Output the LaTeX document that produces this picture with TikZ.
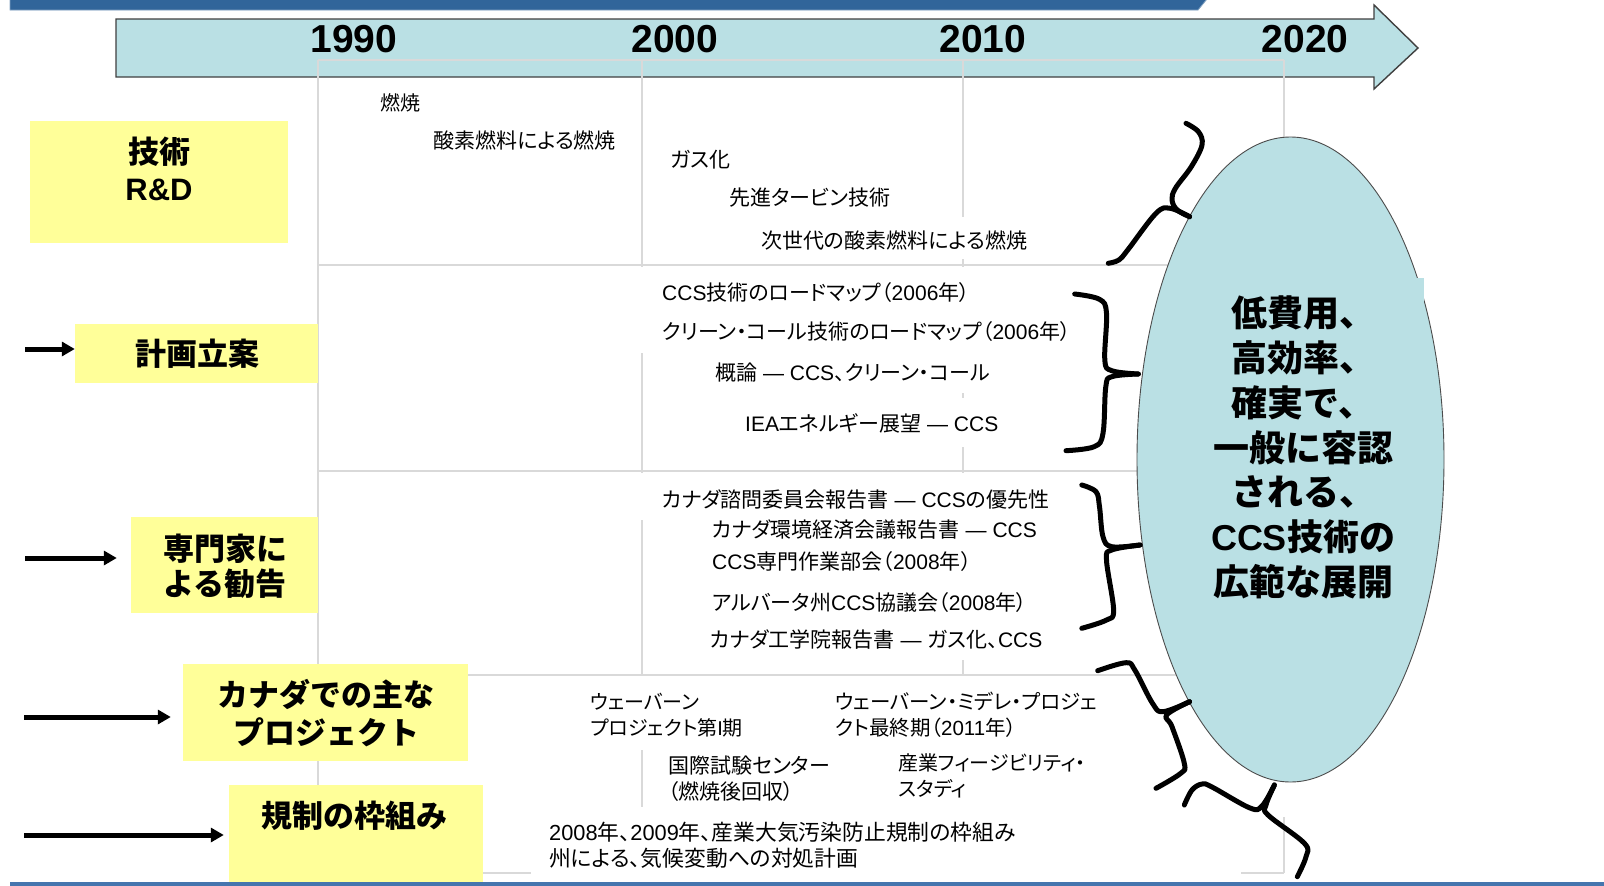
\documentclass[tikz,border=0pt]{standalone}
\usepackage{fontspec}
\setmainfont{Noto Sans CJK JP}[RawFeature=+palt]
\newfontfamily\jpbold{Noto Sans CJK JP}
\newfontfamily\latfont{Liberation Sans}
\newcommand\latn[1]{{\latfont #1}}
\usetikzlibrary{shapes.geometric,arrows.meta}
\definecolor{yboxcol}{HTML}{FFFF99}
\definecolor{ellcol}{HTML}{BAE0E4}
\definecolor{gridcol}{HTML}{D9D9D9}
\definecolor{topbarcol}{HTML}{31659A}
\definecolor{botbarcol}{HTML}{4575AE}
\tikzset{
  ybox/.style={fill=yboxcol,draw=none,inner sep=0pt},
  ytext/.style={font=\jpbold\bfseries\fontsize{31}{37}\selectfont,align=center,inner sep=0pt},
  itemtext/.style={anchor=west,inner sep=0pt,font=\fontsize{21}{26}\selectfont,align=left},
  smalltext/.style={itemtext,font=\fontsize{20}{26}\selectfont},
  gridline/.style={draw=gridcol,line width=1.5pt},
  bracecurve/.style={draw=black,line width=5pt,line cap=round,line join=round},
  leftarrow/.style={draw=black,line width=5pt,-{Triangle[length=13pt,width=14pt]}},
  yeartext/.style={font=\latfont\bfseries\fontsize{39}{39}\selectfont,inner sep=0pt},
}
\begin{document}
\begin{tikzpicture}[x=1pt,y=-1pt]
\useasboundingbox (0,0) rectangle (1604,886);
\fill[white] (0,0) rectangle (1604,886);
% top and bottom bars
\filldraw[fill=topbarcol,draw=topbarcol!60!white,line width=0.8pt] (10,-1) -- (1207,-1) -- (1198,10) -- (10,10) -- cycle;
\fill[botbarcol] (10,882) rectangle (1604,887);
% timeline arrow
\filldraw[fill=ellcol,draw=black!75,line width=1.4pt] (116,19) -- (1374,19) -- (1374,5) -- (1418,48) -- (1374,89) -- (1374,77) -- (116,77) -- cycle;
\node[yeartext] (y1990) at (354,39) {1990};
\node[yeartext] (y2000) at (675,39) {2000};
\node[yeartext] (y2010) at (983,39) {2010};
\node[yeartext] (y2020) at (1305,39) {2020};
% grid
\draw[gridline] (318,60) -- (1284,60);
\draw[gridline] (318,60) -- (318,873);
\draw[gridline] (642,60) -- (642,267) (642,353) -- (642,473) (642,520) -- (642,675) (642,750) -- (642,807);
\draw[gridline] (963,60) -- (963,217) (963,259) -- (963,267) (963,393) -- (963,398) (963,447) -- (963,473) (963,660) -- (963,675);
\draw[gridline] (1284,60) -- (1284,300) (1284,817) -- (1284,873);
\draw[gridline] (318,265) -- (1200,265);
\draw[gridline] (318,471) -- (1200,471);
\draw[gridline] (318,675) -- (1200,675);
\draw[gridline] (318,873) -- (531,873) (1241,873) -- (1284,873);
% goal ellipse
\node[ellipse,draw=black!70,line width=0.9pt,fill=ellcol,minimum width=307pt,minimum height=645pt,inner sep=0pt] (goal) at (1290.5,459.5) {};
\fill[ellcol] (1180,278) rectangle (1424,600);
\node[font=\jpbold\bfseries\fontsize{36}{44.8}\selectfont,align=center,inner sep=0pt] (goaltext) at (1303,447.5)
  {低費用、\\高効率、\\確実で、\\一般に容認\\される、\\\latn{CCS}技術の\\広範な展開};
% braces
\draw[bracecurve] plot[smooth,tension=0.6] coordinates {(1186,123.3) (1198.4,131.7) (1202,145) (1191.3,166.7) (1175.4,188.3) (1172,200) (1177.2,210) (1189.6,216.7)};
\draw[bracecurve] plot[smooth,tension=0.6] coordinates {(1189.6,216.7) (1170.1,208.3) (1156,213.3) (1127.7,250) (1118.9,260) (1108.3,263.3)};
\draw[bracecurve] plot[smooth,tension=0.6] coordinates {(1074.7,294) (1099.5,299.3) (1106.5,313.3) (1104.8,360) (1111.8,370.7) (1138.3,374)};
\draw[bracecurve] plot[smooth,tension=0.6] coordinates {(1138.3,374) (1111.8,376.7) (1105.8,386.7) (1103,433.3) (1094.2,446.7) (1066,450.7)};
\draw[bracecurve] plot[smooth,tension=0.6] coordinates {(1081.8,485) (1096,491.7) (1099.5,506.7) (1103,536.7) (1111.8,546.7) (1140,545)};
\draw[bracecurve] plot[smooth,tension=0.6] coordinates {(1140,545) (1111.8,550) (1106.5,560) (1113.6,610) (1106.5,620) (1081.8,628.3)};
\draw[bracecurve] plot[smooth,tension=0.6] coordinates {(1097.7,670.7) (1126,662.7) (1134.8,670) (1152.5,703.3) (1163,711.7) (1189.6,701.7)};
\draw[bracecurve] plot[smooth,tension=0.6] coordinates {(1189.6,701.7) (1166.6,715) (1172,726.7) (1184.3,763.3) (1180.7,773.3) (1156,788.3)};
\draw[bracecurve] plot[smooth,tension=0.6] coordinates {(1184.3,805) (1192,790) (1202,784) (1212,787) (1250,808) (1262,806) (1274.4,785)};
\draw[bracecurve] plot[smooth,tension=0.6] coordinates {(1274.4,785) (1266,805) (1268,815) (1304.4,843.3) (1306,856.7) (1297.3,876.7)};
% row items
\node[smalltext] (t1) at (380,103) {燃焼};
\node[itemtext] (t2) at (433,140) {酸素燃料による燃焼};
\node[itemtext] (t3) at (670,160) {ガス化};
\node[itemtext] (t4) at (729,198) {先進タービン技術};
\node[itemtext] (t5) at (761,240) {次世代の酸素燃料による燃焼};
\node[itemtext] (p1) at (662,293) {\latn{CCS}技術のロードマップ（\latn{2006}年）};
\node[itemtext] (p2) at (662,332) {クリーン・コール技術のロードマップ（\latn{2006}年）};
\node[itemtext] (p3) at (715,373) {概論\latn{ — CCS}、クリーン・コール};
\node[itemtext] (p4) at (745,423) {\latn{IEA}エネルギー展望\latn{ — CCS}};
\node[itemtext] (e1) at (662,500) {カナダ諮問委員会報告書\latn{ — CCS}の優先性};
\node[itemtext] (e2) at (712,530) {カナダ環境経済会議報告書\latn{ — CCS}};
\node[itemtext] (e3) at (712,562) {\latn{CCS}専門作業部会（\latn{2008}年）};
\node[itemtext] (e4) at (712,603) {アルバータ州\latn{CCS}協議会（\latn{2008}年）};
\node[itemtext] (e5) at (710,640) {カナダ工学院報告書\latn{ — }ガス化、\latn{CCS}};
\node[smalltext] (j1) at (590,715) {ウェーバーン\\プロジェクト第\latn{I}期};
\node[smalltext,font=\fontsize{20.5}{26}\selectfont] (j2) at (835,715) {ウェーバーン・ミデレ・プロジェ\\クト最終期（\latn{2011}年）};
\node[itemtext] (j3) at (668,779) {国際試験センター\\（燃焼後回収）};
\node[smalltext] (j4) at (898,775.5) {産業フィージビリティ・\\スタディ};
\node[itemtext,font=\fontsize{21.8}{25.5}\selectfont] (r1) at (549,845.5) {\latn{2008}年、\latn{2009}年、産業大気汚染防止規制の枠組み\\州による、気候変動への対処計画};
% category boxes
\node[ybox,minimum width=258pt,minimum height=122pt] (rdbox) at (159,182) {};
\node[ytext] (rdtext) at (159,168.5) {技術\\\latn{R\&D}};
\node[ybox,minimum width=243pt,minimum height=59pt] (planbox) at (196.5,353.5) {};
\node[ytext] (plantext) at (197,354) {計画立案};
\node[ybox,minimum width=187pt,minimum height=96pt] (expbox) at (224.5,565) {};
\node[ytext,font=\jpbold\bfseries\fontsize{31}{35}\selectfont] (exptext) at (225,566.5) {専門家に\\よる勧告};
\node[ybox,minimum width=285pt,minimum height=97pt] (projbox) at (325.5,712.5) {};
\node[ytext,font=\jpbold\bfseries\fontsize{31}{38}\selectfont] (projtext) at (326,713) {カナダでの主な\\プロジェクト};
\node[ybox,minimum width=254pt,minimum height=97pt] (regbox) at (356,833.5) {};
\node[ytext] (regtext) at (354,816) {規制の枠組み};
% arrows
\coordinate (s1) at (25,349);
\coordinate (s2) at (25,558);
\coordinate (s3) at (24,717);
\coordinate (s4) at (24,835);
\draw[leftarrow] (s1) -- (s1 -| planbox.west);
\draw[leftarrow,shorten >=14pt] (s2) -- (s2 -| expbox.west);
\draw[leftarrow,shorten >=12pt] (s3) -- (s3 -| projbox.west);
\draw[leftarrow,shorten >=5pt] (s4) -- (s4 -| regbox.west);
\end{tikzpicture}
\end{document}
